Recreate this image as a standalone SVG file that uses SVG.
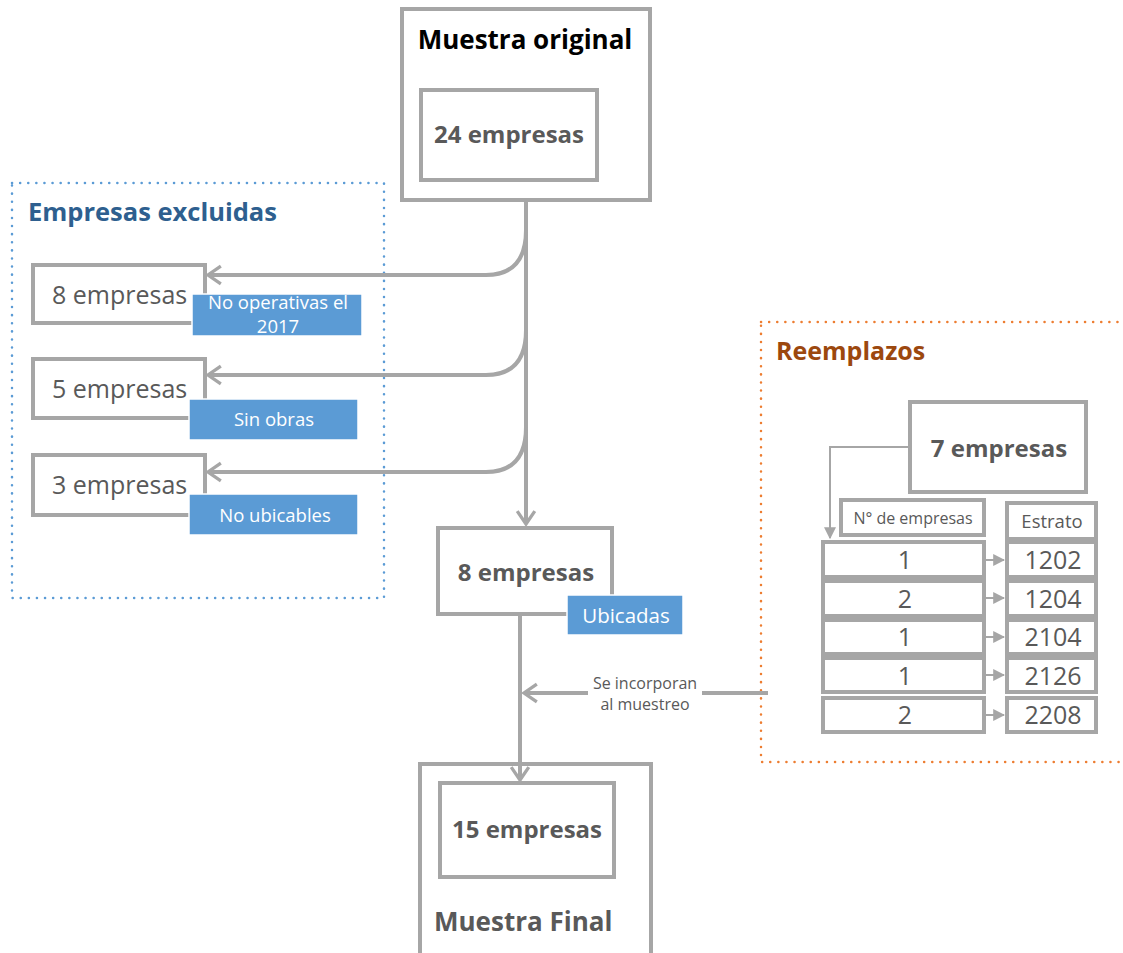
<svg xmlns="http://www.w3.org/2000/svg" width="1123" height="953" viewBox="0 0 1123 953">
<style>
.box{fill:#fff;stroke:#a6a6a6;stroke-width:4}
.lbl{fill:#5b9bd5;stroke:#fff;stroke-width:1.5}
.t{font-family:"Open Sans","Liberation Sans",Arial,sans-serif;fill:#595959}
.b{font-weight:bold}
.w{fill:#fff}
.conn{fill:none;stroke:#a6a6a6;stroke-width:4}
.conn2{fill:none;stroke:#a6a6a6;stroke-width:2}
</style>
<defs>
<marker id="chev" viewBox="0 0 12 12" refX="10" refY="6" markerWidth="5.5" markerHeight="5.5" orient="auto" markerUnits="strokeWidth">
<path d="M3,1.2 L10,6 L3,10.8" fill="none" stroke="#a6a6a6" stroke-width="1.8"/>
</marker>
<marker id="tri" viewBox="0 0 10 10" refX="9" refY="5" markerWidth="6" markerHeight="6" orient="auto" markerUnits="strokeWidth">
<path d="M0,0 L10,5 L0,10 Z" fill="#a6a6a6"/>
</marker>
</defs>

<g id="excluidas-group">
<rect x="12" y="183" width="372" height="415" fill="none" stroke="#5b9bd5" stroke-width="2.5" stroke-dasharray="0.1 8" stroke-linecap="round"/>
<text class="t b" x="28" y="221" font-size="25.5" style="fill:#2e5f8f">Empresas excluidas</text>
</g>

<g id="reemplazos-group">
<rect x="761" y="322" width="380" height="440" fill="none" stroke="#ed7d31" stroke-width="2.5" stroke-dasharray="0.1 8" stroke-linecap="round"/>
<text class="t b" x="776" y="360" font-size="25" style="fill:#9c480e">Reemplazos</text>
</g>

<g id="connectors">
<path class="conn" d="M526,200 V524" marker-end="url(#chev)"/>
<path class="conn" d="M526,230 Q526,275 486,275 H208" marker-end="url(#chev)"/>
<path class="conn" d="M526,330 Q526,375 486,375 H208" marker-end="url(#chev)"/>
<path class="conn" d="M526,427 Q526,472 486,472 H208" marker-end="url(#chev)"/>
<path class="conn" d="M520,614 V780" marker-end="url(#chev)"/>
<path class="conn" d="M768,693 H524" marker-end="url(#chev)"/>
<path class="conn2" d="M909,447 H830 V538" marker-end="url(#tri)"/>
<path class="conn2" d="M985,560 H1004" marker-end="url(#tri)"/>
<path class="conn2" d="M985,598 H1004" marker-end="url(#tri)"/>
<path class="conn2" d="M985,637 H1004" marker-end="url(#tri)"/>
<path class="conn2" d="M985,675 H1004" marker-end="url(#tri)"/>
<path class="conn2" d="M985,715 H1004" marker-end="url(#tri)"/>
<rect x="588" y="673" width="114" height="46" fill="#fff"/>
<text class="t" x="645" y="689" font-size="16" text-anchor="middle">Se incorporan</text>
<text class="t" x="645" y="710" font-size="16" text-anchor="middle">al muestreo</text>
</g>

<g id="muestra-original">
<rect class="box" x="402" y="9" width="248" height="191"/>
<text class="t b" x="525" y="49" font-size="26" text-anchor="middle" style="fill:#000">Muestra original</text>
<rect class="box" x="421" y="90" width="176" height="90"/>
<text class="t b" x="509" y="143" font-size="24" text-anchor="middle">24 empresas</text>
</g>

<g id="excl-8">
<rect class="box" x="33" y="265" width="172" height="58"/>
<text class="t" x="52" y="304" font-size="25">8 empresas</text>
<rect class="lbl" x="192" y="294" width="170" height="42"/>
<text class="t w" x="278" y="309" font-size="18.5" text-anchor="middle">No operativas el</text>
<text class="t w" x="278" y="333" font-size="18.5" text-anchor="middle">2017</text>
</g>

<g id="excl-5">
<rect class="box" x="33" y="359" width="172" height="59"/>
<text class="t" x="52" y="398" font-size="25">5 empresas</text>
<rect class="lbl" x="189" y="399" width="169" height="41"/>
<text class="t w" x="274" y="426" font-size="18.5" text-anchor="middle">Sin obras</text>
</g>

<g id="excl-3">
<rect class="box" x="33" y="455" width="172" height="60"/>
<text class="t" x="52" y="494" font-size="25">3 empresas</text>
<rect class="lbl" x="189" y="494" width="169" height="41"/>
<text class="t w" x="275" y="522" font-size="18.5" text-anchor="middle">No ubicables</text>
</g>

<g id="ubicadas-8">
<rect class="box" x="438" y="528" width="174" height="86"/>
<text class="t b" x="526" y="581" font-size="24" text-anchor="middle">8 empresas</text>
<rect class="lbl" x="567" y="595" width="116" height="40"/>
<text class="t w" x="626" y="623" font-size="20.5" text-anchor="middle">Ubicadas</text>
</g>

<g id="muestra-final">
<path class="conn" d="M420,953 V764 H651 V953"/>
<rect class="box" x="440" y="783" width="174" height="94"/>
<text class="t b" x="527" y="838" font-size="24" text-anchor="middle">15 empresas</text>
<text class="t b" x="434" y="931" font-size="26">Muestra Final</text>
</g>

<g id="reemplazo-7">
<rect class="box" x="910" y="402" width="176" height="90"/>
<text class="t b" x="999" y="457" font-size="24" text-anchor="middle">7 empresas</text>
</g>

<g id="tabla">
<rect class="box" x="841" y="500" width="143" height="35"/>
<text class="t" x="913" y="524" font-size="16" text-anchor="middle">N° de empresas</text>
<rect class="box" x="1007" y="503" width="89" height="36"/>
<text class="t" x="1052" y="528" font-size="18.5" text-anchor="middle">Estrato</text>
<rect class="box" x="823" y="542" width="161" height="35"/>
<text class="t" x="905" y="569" font-size="25" text-anchor="middle">1</text>
<rect class="box" x="1007" y="542" width="89" height="35"/>
<text class="t" x="1053" y="569" font-size="25" text-anchor="middle">1202</text>
<rect class="box" x="823" y="581" width="161" height="35"/>
<text class="t" x="905" y="608" font-size="25" text-anchor="middle">2</text>
<rect class="box" x="1007" y="581" width="89" height="35"/>
<text class="t" x="1053" y="608" font-size="25" text-anchor="middle">1204</text>
<rect class="box" x="823" y="620" width="161" height="34"/>
<text class="t" x="905" y="646" font-size="25" text-anchor="middle">1</text>
<rect class="box" x="1007" y="620" width="89" height="34"/>
<text class="t" x="1053" y="646" font-size="25" text-anchor="middle">2104</text>
<rect class="box" x="823" y="658" width="161" height="34"/>
<text class="t" x="905" y="685" font-size="25" text-anchor="middle">1</text>
<rect class="box" x="1007" y="658" width="89" height="34"/>
<text class="t" x="1053" y="685" font-size="25" text-anchor="middle">2126</text>
<rect class="box" x="823" y="698" width="161" height="34"/>
<text class="t" x="905" y="724" font-size="25" text-anchor="middle">2</text>
<rect class="box" x="1007" y="698" width="89" height="34"/>
<text class="t" x="1053" y="724" font-size="25" text-anchor="middle">2208</text>
</g>
</svg>
